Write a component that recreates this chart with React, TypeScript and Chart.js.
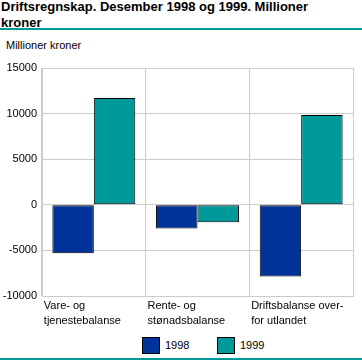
import React, { useEffect, useRef } from "react";
import { Chart, registerables } from "chart.js";

Chart.register(...registerables);

const categories: string[][] = [
  ["Vare- og", "tjenestebalanse"],
  ["Rente- og", "stønadsbalanse"],
  ["Driftsbalanse over-", "for utlandet"],
];
const values1998: number[] = [-5300, -2600, -7850];
const values1999: number[] = [11700, -1900, 9850];
const seriesNames: string[] = ["1998", "1999"];
const seriesColors: string[] = ["#003399", "#009999"];
const yMin = -10000;
const yMax = 15000;
const yStep = 5000;

const FONT = "'Liberation Sans', Arial, sans-serif";
const TEAL = "#009999";
const GRID = "#cccccc";

export default function App() {
  const ref = useRef<HTMLCanvasElement | null>(null);

  useEffect(() => {
    if (!ref.current) return;
    const chart = new Chart(ref.current, {
      type: "bar",
      data: {
        labels: categories,
        datasets: [
          {
            label: seriesNames[0],
            data: values1998,
            backgroundColor: seriesColors[0],
            borderColor: "#000000",
            borderWidth: 1,
            borderSkipped: false,
          },
          {
            label: seriesNames[1],
            data: values1999,
            backgroundColor: seriesColors[1],
            borderColor: "#000000",
            borderWidth: 1,
            borderSkipped: false,
          },
        ],
      },
      options: {
        animation: false,
        responsive: false,
        maintainAspectRatio: false,
        layout: { padding: { top: 13, right: 9, left: 0, bottom: 0 } },
        datasets: { bar: { barPercentage: 1, categoryPercentage: 0.8 } },
        plugins: {
          legend: { display: false },
          title: { display: false },
          tooltip: { enabled: false },
        },
        scales: {
          x: {
            offset: true,
            grid: { color: GRID, offset: true, drawTicks: false, lineWidth: 1 },
            border: { color: GRID },
            ticks: {
              color: "#000000",
              font: { family: FONT, size: 11, lineHeight: 1.35 },
              align: "start",
              labelOffset: -50,
              maxRotation: 0,
              minRotation: 0,
              autoSkip: false,
              padding: 3,
            },
            afterFit: (scale: any) => {
              scale.height = 37;
              scale.paddingLeft = 0;
              scale.paddingRight = 0;
            },
          },
          y: {
            min: yMin,
            max: yMax,
            grid: { color: GRID, drawTicks: false, lineWidth: 1 },
            border: { color: GRID },
            ticks: {
              stepSize: yStep,
              color: "#000000",
              font: { family: FONT, size: 11 },
              padding: 5,
              callback: (v: any) => String(v),
            },
            afterFit: (scale: any) => {
              scale.width = 42;
            },
          },
        },
      },
    });
    return () => chart.destroy();
  }, []);

  const legendItem = (i: number, left: number) => (
    <React.Fragment key={i}>
      <div
        style={{
          position: "absolute",
          left,
          top: 337,
          width: 18,
          height: 17,
          boxSizing: "border-box",
          border: "1px solid #000",
          background: seriesColors[i],
        }}
      />
      <div
        style={{
          position: "absolute",
          left: left + 23,
          top: 338,
          fontSize: 11,
          lineHeight: "15px",
          color: "#000",
        }}
      >
        {seriesNames[i]}
      </div>
    </React.Fragment>
  );

  return (
    <div
      style={{
        position: "fixed",
        left: 0,
        top: 0,
        width: 362,
        height: 361,
        background: "#ffffff",
        fontFamily: FONT,
        overflow: "hidden",
      }}
    >
      <div
        style={{
          position: "absolute",
          left: 1,
          top: -1,
          fontSize: 13,
          fontWeight: "bold",
          lineHeight: "16px",
          color: "#000",
          whiteSpace: "nowrap",
        }}
      >
        Driftsregnskap. Desember 1998 og 1999. Millioner
        <br />
        kroner
      </div>
      <div style={{ position: "absolute", left: 0, top: 28, width: 362, height: 2, background: TEAL }} />
      <div
        style={{
          position: "absolute",
          left: 6,
          top: 39,
          fontSize: 11,
          lineHeight: "13px",
          color: "#000",
        }}
      >
        Millioner kroner
      </div>
      <canvas
        ref={ref}
        width={362}
        height={278}
        style={{ position: "absolute", left: 0, top: 55, width: 362, height: 278 }}
      />
      {legendItem(0, 142)}
      {legendItem(1, 217)}
      <div style={{ position: "absolute", left: 0, top: 358, width: 362, height: 2, background: TEAL }} />
    </div>
  );
}
